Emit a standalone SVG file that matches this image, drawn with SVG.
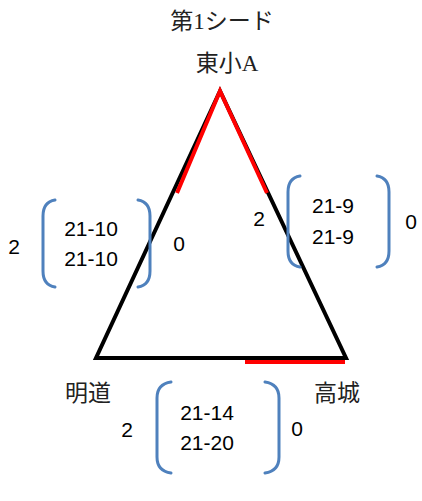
<svg xmlns="http://www.w3.org/2000/svg" width="422" height="501" viewBox="0 0 422 501">
<style>
.jp{font-family:"Liberation Serif","Noto Sans CJK JP",serif;font-size:23px;fill:#222}
.sc{font-family:"Liberation Sans","Noto Sans",sans-serif;font-size:21px;fill:#000}
.br{fill:none;stroke:#4F81BD;stroke-width:3;stroke-linecap:round}
.tri{fill:none;stroke:#000;stroke-width:4;stroke-linejoin:miter}
.red{fill:none;stroke:#FF0000;stroke-width:4}
</style>
<rect width="422" height="501" fill="#fff"/>
<text class="jp" x="222" y="29" text-anchor="middle">第1シード</text>
<g id="higashi"><text class="jp" x="227" y="71" text-anchor="middle">東小A</text></g>
<g id="meido"><text class="jp" x="88" y="401" text-anchor="middle">明道</text></g>
<g id="takagi"><text class="jp" x="337" y="401" text-anchor="middle">高城</text></g>
<g id="connectors">
<polygon class="tri" points="220,91 96,358 346,358"/>
<polyline class="red" points="177,193 220,91 267,193"/>
<line class="red" x1="245" y1="362" x2="345" y2="362"/>
</g>
<g id="score-left">
<path class="br" d="M55,200 Q43,202 43,216 L43,271 Q43,285 55,287"/>
<path class="br" d="M138,200 Q150,202 150,216 L150,271 Q150,285 138,287"/>
<text class="sc" x="91" y="236" text-anchor="middle">21-10</text>
<text class="sc" x="91" y="266" text-anchor="middle">21-10</text>
<text class="sc" x="14" y="254" text-anchor="middle">2</text>
<text class="sc" x="179" y="251" text-anchor="middle">0</text>
</g>
<g id="score-right">
<path class="br" d="M300,176 Q288,178 288,192 L288,251 Q288,265 300,267"/>
<path class="br" d="M377,176 Q389,178 389,192 L389,251 Q389,265 377,267"/>
<text class="sc" x="333" y="213" text-anchor="middle">21-9</text>
<text class="sc" x="333" y="244" text-anchor="middle">21-9</text>
<text class="sc" x="259" y="226" text-anchor="middle">2</text>
<text class="sc" x="411" y="229" text-anchor="middle">0</text>
</g>
<g id="score-bottom">
<path class="br" d="M171,382 Q157,384 157,398 L157,457 Q157,471 171,473"/>
<path class="br" d="M265,382 Q279,384 279,398 L279,457 Q279,471 265,473"/>
<text class="sc" x="207" y="420" text-anchor="middle">21-14</text>
<text class="sc" x="207" y="450" text-anchor="middle">21-20</text>
<text class="sc" x="127" y="437" text-anchor="middle">2</text>
<text class="sc" x="297" y="436" text-anchor="middle">0</text>
</g>
</svg>
